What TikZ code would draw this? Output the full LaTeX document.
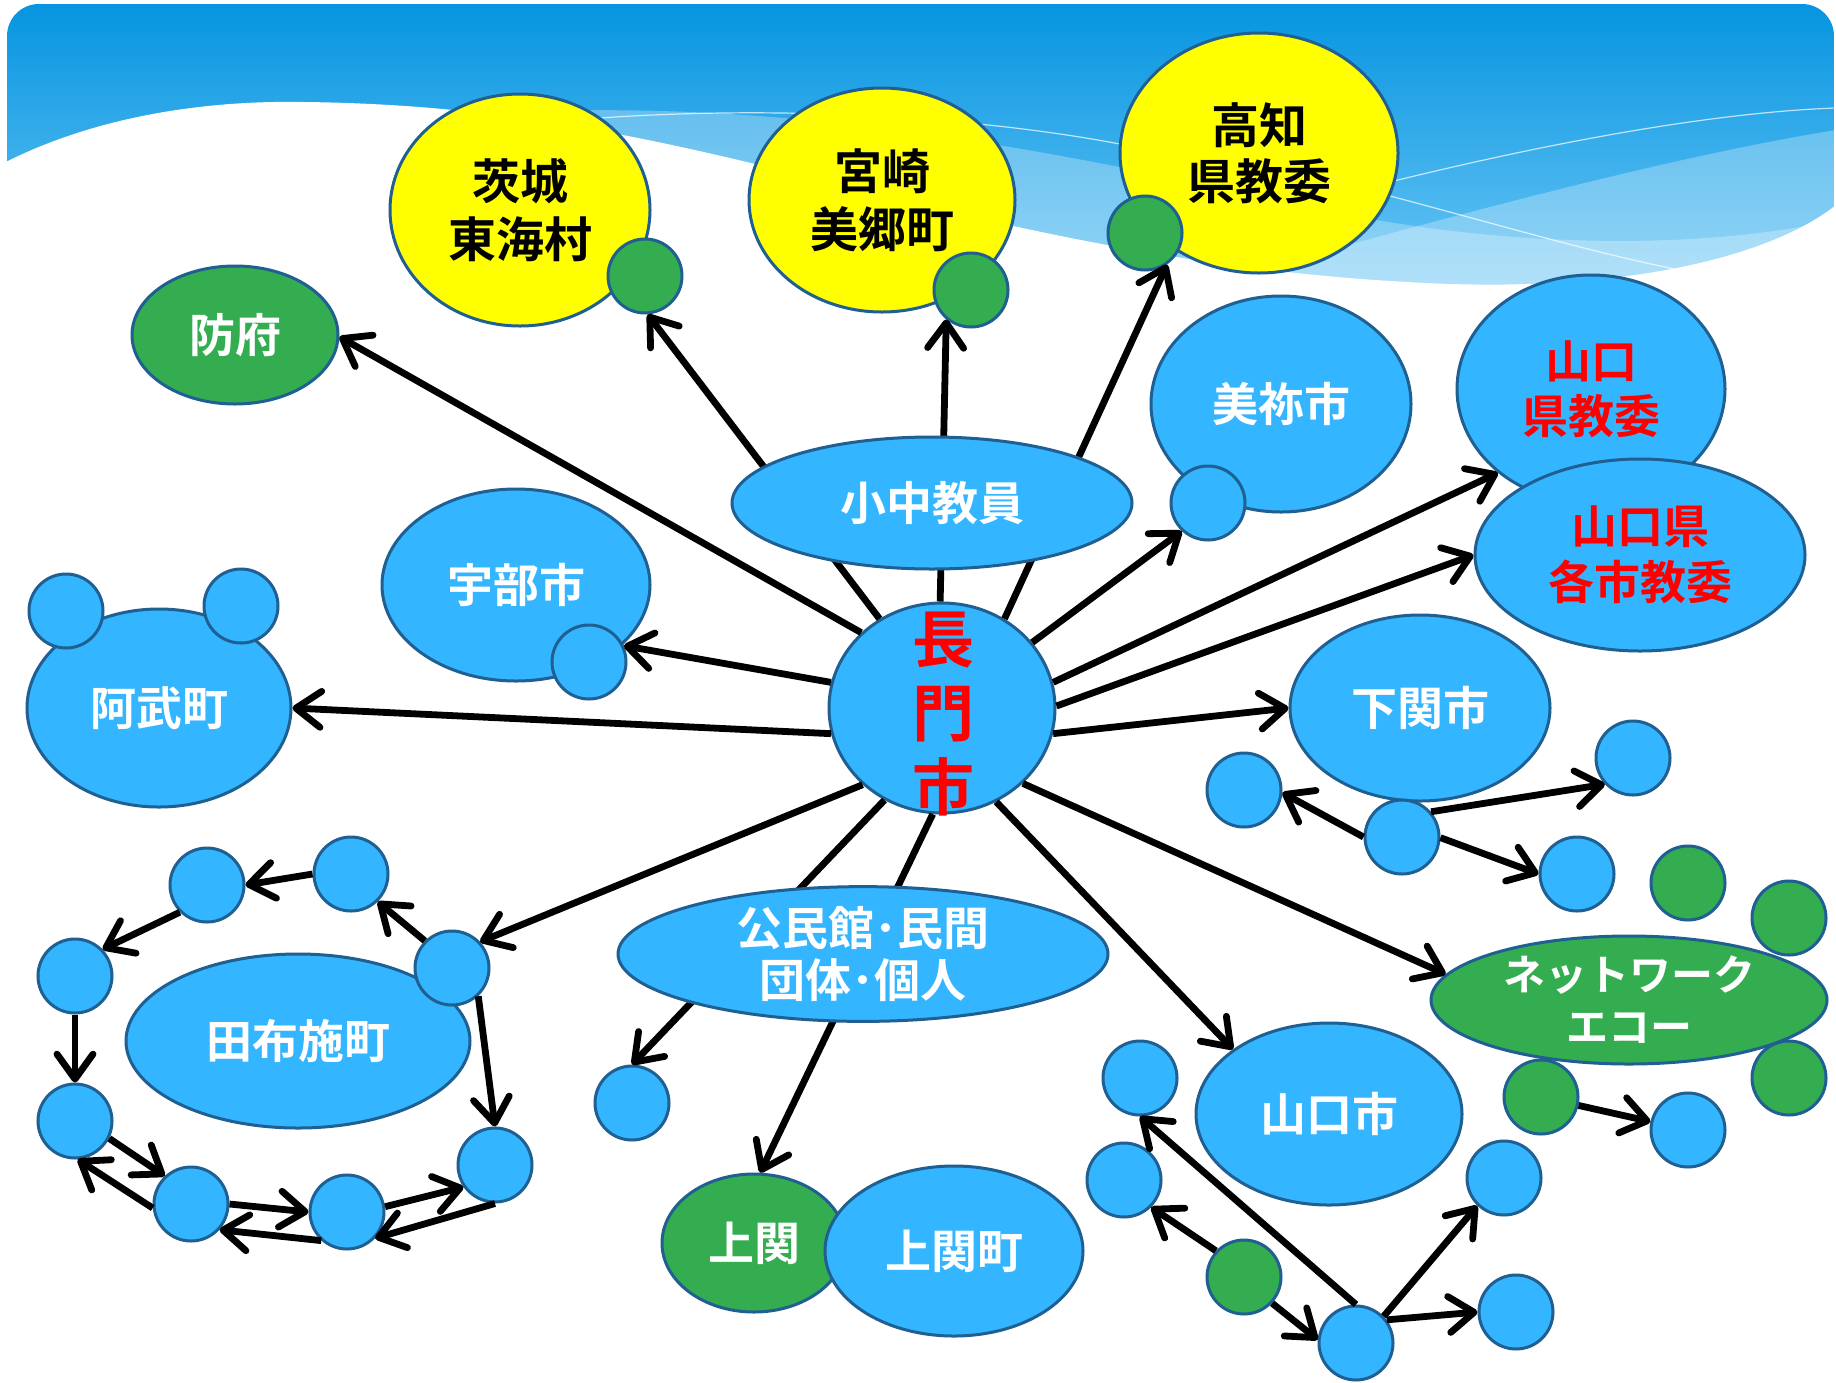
\documentclass[tikz,border=0pt]{standalone}
\usepackage{fontspec}
\newfontfamily\jp{Noto Sans CJK JP}[BoldFont={Noto Sans CJK JP Bold}]
\usetikzlibrary{shapes.geometric,arrows.meta}
\definecolor{skyc}{RGB}{51,181,255}
\definecolor{edgec}{RGB}{31,95,145}
\definecolor{leafc}{RGB}{51,173,80}
\definecolor{sunc}{RGB}{255,255,0}
\definecolor{bgtop}{RGB}{5,148,224}
\definecolor{bgbot}{RGB}{120,205,248}
\newcommand\lblsize{\fontsize{23pt}{28pt}\selectfont}
\begin{document}
\begin{tikzpicture}[x=0.5pt,y=-0.5pt,
  blob/.style={ellipse, draw=edgec, line width=1.5pt, inner sep=0pt, align=center, text=white, font=\jp\bfseries\lblsize},
  sky/.style={blob, fill=skyc},
  leaf/.style={blob, fill=leafc},
  sun/.style={blob, fill=sunc, text=black},
  sz/.style 2 args={minimum width=#1pt, minimum height=#2pt},
  bub/.style={circle, draw=edgec, line width=1.5pt, inner sep=0pt, minimum size=37pt, fill=skyc},
  gbub/.style={bub, fill=leafc},
  arr/.style={line width=3.4pt, -{Straight Barb[length=12.5pt,width=18pt,round]}}]
\useasboundingbox (0,0) rectangle (1836,1382);
\fill[white] (0,0) rectangle (1836,1382);

% sky header with waves
\begin{scope}
  \clip[rounded corners=16pt] (7,4) rectangle (1834,360);
  \shade[top color=bgtop, bottom color=bgbot] (0,0) rectangle (1836,330);
  \fill[white, opacity=.28] (1150,300) .. controls (1400,230) and (1650,160) .. (1836,130) -- (1836,360) -- cycle;
  \fill[white, opacity=.28] (520,112) .. controls (800,100) and (1050,150) .. (1300,205) .. controls (1500,250) and (1700,250) .. (1836,220) -- (1836,360) -- (520,360) -- cycle;
  \draw[white, opacity=.7, line width=0.6pt] (600,118) .. controls (800,104) and (1000,120) .. (1130,146);
  \draw[white, opacity=.7, line width=0.6pt] (1390,182) .. controls (1560,140) and (1720,112) .. (1836,108);
  \draw[white, opacity=.7, line width=0.6pt] (1390,196) .. controls (1500,225) and (1600,255) .. (1690,272);
  \fill[white] (0,165) .. controls (90,118) and (200,100) .. (304,102) .. controls (480,104) and (620,130) .. (800,175) .. controls (1000,225) and (1200,275) .. (1450,284) .. controls (1650,290) and (1780,250) .. (1836,205) -- (1836,400) -- (0,400) -- cycle;
\end{scope}

% outside partners
\node[sun, sz={130}{116}, font=\jp\bfseries\fontsize{24pt}{29pt}\selectfont] (ibaraki) at (520,210) {茨城\\東海村};
\node[gbub] (gI) at (645,276) {};
\node[sun, sz={133}{112}, font=\jp\bfseries\fontsize{24pt}{29pt}\selectfont] (miyazaki) at (882,200) {宮崎\\美郷町};
\node[gbub] (gM) at (971,290) {};
\node[sun, sz={139}{120}, font=\jp\bfseries\fontsize{24pt}{28pt}\selectfont] (kochi) at (1259,153) {高知\\県教委};
\node[gbub] (gK) at (1145,233) {};

% prefecture
\node[leaf, sz={103}{69}] (hofu) at (235,335) {防府};
\node[sky, sz={130}{108}] (mine) at (1281,404) {美祢市};
\node[bub] (mineDot) at (1208,503) {};
\node[sky, sz={134}{114}, text=red, font=\jp\bfseries\fontsize{23pt}{27.5pt}\selectfont] (ypref) at (1591,389) {山口\\県教委};
\node[sky, sz={165}{96}, text=red, font=\jp\bfseries\fontsize{23pt}{28pt}\selectfont] (ycities) at (1640,555) {山口県\\各市教委};
\node[sky, sz={134}{96}] (ube) at (516,585) {宇部市};
\node[bub] (ubeDot) at (589,662) {};
\node[sky, sz={132}{99}] (abu) at (159,708) {阿武町};
\node[bub] (ear1) at (66,611) {};
\node[bub] (ear2) at (241,606) {};

% centre
\node[sky, sz={113}{105}] (nagato) at (942,708) {};
\node[text=red, align=center, font=\jp\bfseries\fontsize{31pt}{37pt}\selectfont] (nagatoLabel) at (943,714) {長\\門\\市};

% Shimonoseki
\node[sky, sz={130}{93}] (shimo) at (1420,708) {下関市};
\node[bub] (sA) at (1244,790) {};
\node[bub] (sB) at (1402,837) {};
\node[bub] (sC) at (1633,758) {};
\node[bub] (sD) at (1577,874) {};

% Network Eco
\node[leaf, sz={198}{64}, font=\jp\bfseries\fontsize{21pt}{26pt}\selectfont] (net) at (1629,1000) {ネットワーク\\エコー};
\node[gbub] (n1) at (1688,883) {};
\node[gbub] (n2) at (1789,918) {};
\node[gbub] (n3) at (1789,1078) {};
\node[gbub] (n4) at (1541,1097) {};
\node[bub] (n5) at (1688,1130) {};

% Yamaguchi city
\node[sky, sz={133}{91}] (ycity) at (1329,1114) {山口市};
\node[bub] (y1) at (1140,1078) {};
\node[bub] (y2) at (1124,1180) {};
\node[gbub] (yg) at (1244,1277) {};
\node[bub] (yb) at (1356,1343) {};
\node[bub] (y3) at (1504,1178) {};
\node[bub] (y4) at (1516,1312) {};

% Kaminoseki
\node[bub] (kDot) at (632,1103) {};
\node[leaf, sz={92}{69}] (kamiG) at (754,1243) {上関};
\node[sky, sz={129}{85}] (kamiB) at (954,1251) {上関町};

% Tabuse ring
\node[sky, sz={172}{87}] (tabuse) at (298,1041) {田布施町};
\node[bub] (c1) at (452,968) {};
\node[bub] (c2) at (351,874) {};
\node[bub] (c3) at (207,885) {};
\node[bub] (c4) at (75,976) {};
\node[bub] (c5) at (75,1121) {};
\node[bub] (c6) at (191,1204) {};
\node[bub] (c7) at (347,1212) {};
\node[bub] (c8) at (495,1165) {};

% links from Nagato
\draw[arr] (nagato.137) -- (hofu.-1);
\draw[arr] (nagato.125) -- (gI.-86);
\draw[arr] (nagato.91) -- (gM.-130);
\draw[arr] (nagato.55) -- (gK.-55);
\draw[arr] (nagato.36) -- (mineDot.-133);
\draw[arr] (nagato.13) -- (ypref.-138);
\draw[arr] (nagato.1.5) -- (ycities.180);
\draw[arr] (nagato.-13) -- (shimo.180);
\draw[arr] (nagato.-43) -- (net.172.5);
\draw[arr] (nagato.-60) -- (ycity.146);
\draw[arr] (nagato.-95) -- (kamiG.85);
\draw[arr] (nagato.-122) -- (kDot.90);
\draw[arr] (nagato.-136) -- (c1.43);
\draw[arr] (nagato.-167) -- (abu.0);
\draw[arr] (nagato.167) -- (ubeDot.25);

% Tabuse ring links
\draw[arr] (c1.135) -- (c2.-46);
\draw[arr] (c2.180) -- (c3.0);
\draw[arr] (c3.-135) -- (c4.44);
\draw[arr] (c4.-90) -- (c5.90);
\draw[arr] (c5.-27) -- (c6.133);
\draw[arr] (c6.186) -- (c5.-86);
\draw[arr] (c6.0) -- (c7.180);
\draw[arr] (c7.-132) -- (c6.-42);
\draw[arr] (c7.8) -- (c8.-145);
\draw[arr] (c8.-90) -- (c7.-43);
\draw[arr] (c1.-47) -- (c8.90);

% Shimonoseki links
\draw[arr] (sB.180) -- (sA.-4);
\draw[arr] (sB.41) -- (sC.-137);
\draw[arr] (sB.-1.5) -- (sD.180);

% Network Eco link
\draw[arr] (n4) -- (n5);

% Yamaguchi city links
\draw[arr] (yb.90) -- (y1.-90);
\draw[arr] (yg.137) -- (y2.-45);
\draw[arr] (yg.-43) -- (yb.175);
\draw[arr] (yb.44) -- (y3.-134);
\draw[arr] (yb.37) -- (y4.180);

% hubs the links pass beneath
\node[sky, sz={200}{66}] (shochu) at (932,503) {小中教員};
\node[sky, sz={245}{66}, font=\jp\bfseries\fontsize{23pt}{26pt}\selectfont] (komin) at (863,954) {公民館･民間\\団体･個人};
\end{tikzpicture}
\end{document}
